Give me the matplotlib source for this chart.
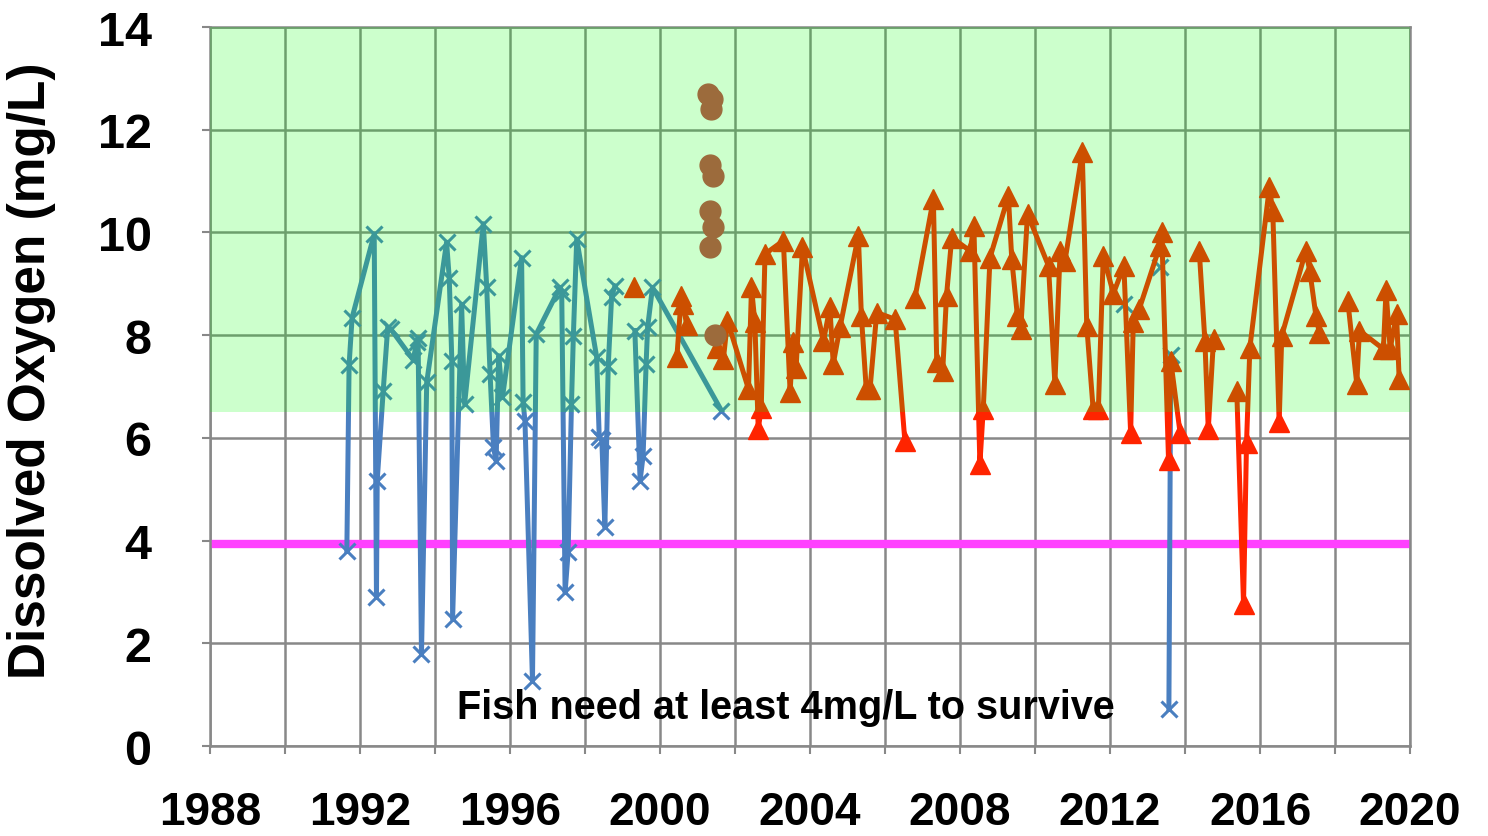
import numpy as np
import matplotlib
matplotlib.use("Agg")
import matplotlib.pyplot as plt
from matplotlib.ticker import MultipleLocator

# ----------------------------------------------------------------
#  Data (NaN = break in the line)
# ----------------------------------------------------------------
nan = np.nan

blue_years = [1991.65, 1991.71, 1991.79, 1992.38, 1992.44, 1992.46, 1992.62, 1992.74,
              1992.82, 1993.42, 1993.51, 1993.55, 1993.64, 1993.78, 1994.31, 1994.38,
              1994.45, 1994.47, 1994.71, 1994.79, 1995.29, 1995.38, 1995.47, 1995.56,
              1995.63, 1995.70, 1995.80, 1996.31, 1996.35, 1996.40, 1996.60, 1996.70,
              1997.33, 1997.38, 1997.47, 1997.55, 1997.64, 1997.69, 1997.78, 1998.31,
              1998.38, 1998.45, 1998.53, 1998.62, 1998.71, 1998.80, nan,
              1999.33, 1999.47, 1999.55, 1999.63, 1999.67, 1999.80, 2001.64, nan,
              2012.36, nan, 2013.33, nan, 2013.57, 2013.62]
blue_do = [3.80, 7.42, 8.34, 9.97, 2.90, 5.17, 6.92, 8.15,
           8.12, 7.52, 7.86, 7.95, 1.79, 7.08, 9.81, 9.12,
           7.50, 2.47, 8.60, 6.66, 10.17, 8.93, 7.24, 5.82,
           5.55, 7.60, 6.79, 9.51, 6.70, 6.32, 1.27, 8.02,
           8.93, 8.82, 2.99, 3.77, 6.66, 7.99, 9.87, 7.58,
           6.02, 5.95, 4.26, 7.40, 8.75, 8.96, nan,
           8.09, 5.17, 5.65, 7.44, 8.15, 8.93, 6.53, nan,
           8.60, nan, 9.33, nan, 0.72, 7.62]

red_years = [1999.31, nan,
             2000.45, 2000.57, 2000.62, 2000.71, nan,
             2001.53, 2001.69, 2001.80, 2002.36, 2002.44, 2002.53, 2002.62, 2002.70,
             2002.80, 2003.29, 2003.47, 2003.54, 2003.63, 2003.80, 2004.36, 2004.53,
             2004.62, 2004.80, 2005.29, 2005.37, 2005.50, 2005.60, 2005.78, 2006.27,
             2006.53, nan,
             2006.80, 2007.29, 2007.38, 2007.54, 2007.64, 2007.78, 2008.27, 2008.37,
             2008.53, 2008.62, 2008.80, 2009.29, 2009.38, 2009.53, 2009.62, 2009.80,
             2010.36, 2010.53, 2010.67, 2010.80, 2011.26, 2011.38, 2011.55, 2011.69,
             2011.82, 2012.09, 2012.37, 2012.55, 2012.62, 2012.78, 2013.33, 2013.38,
             2013.56, 2013.62, 2013.87, nan,
             2014.38, 2014.53, 2014.62, 2014.76, nan,
             2015.38, 2015.56, 2015.64, 2015.73, 2016.25, 2016.34, 2016.51, 2016.58,
             2017.22, 2017.33, 2017.49, 2017.58, nan,
             2018.34, 2018.58, 2018.65, 2019.29, 2019.36, 2019.47, 2019.64, 2019.71]
red_do = [8.93, nan,
          7.57, 8.77, 8.60, 8.20, nan,
          7.76, 7.53, 8.28, 6.95, 8.93, 8.25, 6.17, 6.58,
          9.58, 9.84, 6.89, 7.86, 7.37, 9.71, 7.89, 8.54,
          7.44, 8.15, 9.94, 8.38, 6.95, 6.95, 8.44, 8.31,
          5.94, nan,
          8.73, 10.65, 7.47, 7.31, 8.77, 9.90, 9.64, 10.13,
          5.49, 6.56, 9.51, 10.71, 9.48, 8.38, 8.12, 10.36,
          9.35, 7.05, 9.64, 9.45, 11.56, 8.18, 6.56, 6.56,
          9.55, 8.81, 9.35, 6.09, 8.25, 8.51, 9.74, 10.00,
          5.57, 7.50, 6.09, nan,
          9.64, 7.89, 6.17, 7.92, nan,
          6.92, 2.77, 5.91, 7.76, 10.88, 10.42, 6.30, 7.99,
          9.64, 9.24, 8.38, 8.05, nan,
          8.67, 7.05, 8.09, 7.73, 8.87, 7.73, 8.41, 7.15]

brown_years = [2001.29, 2001.38, 2001.36, 2001.33, 2001.42, 2001.33, 2001.42, 2001.33, 2001.47]
brown_do = [12.69, 12.60, 12.40, 11.31, 11.10, 10.42, 10.10, 9.71, 8.00]

good_level = 6.5      # healthy band shading starts here
fish_level = 3.93     # survival threshold line

# ----------------------------------------------------------------
#  Plot
# ----------------------------------------------------------------
plt.rcParams['font.family'] = ['Liberation Sans', 'DejaVu Sans']
plt.rcParams['font.weight'] = 'bold'

fig = plt.figure(figsize=(14.88, 8.37), dpi=100)
ax = fig.add_axes([0.1411, 0.1075, 0.8065, 0.859])

ax.axhline(fish_level, color='#ff40ff', lw=6, zorder=2)

ax.plot(blue_years, blue_do, color='#4a7fc0', lw=3.6, marker='x',
        markersize=12, markeredgewidth=2.2, zorder=3)
ax.plot(red_years, red_do, color='#ff2400', lw=3.6, marker='^',
        markersize=15, zorder=3)

# translucent green overlay tints everything underneath it
ax.axhspan(good_level, 14, facecolor=(0, 1, 0), alpha=0.2, lw=0, zorder=4)

ax.plot(brown_years, brown_do, 'o', color='#9c6b3c', markersize=15, zorder=5)

ax.text(2003.36, 0.76, 'Fish need at least 4mg/L to survive', fontsize=28.5,
        fontweight='bold', ha='center', va='center', zorder=6)

ax.set_xlim(1988, 2020)
ax.set_ylim(0, 14)
ax.xaxis.set_major_locator(MultipleLocator(4))
ax.xaxis.set_minor_locator(MultipleLocator(2))
ax.yaxis.set_major_locator(MultipleLocator(2))
ax.grid(True, which='both', color='#888888', lw=1.8, zorder=1)
ax.set_axisbelow(True)

for s in ax.spines.values():
    s.set_color('#888888')
    s.set_linewidth(1.8)

ax.tick_params(axis='both', which='both', color='#888888', length=6, width=1.5)
ax.tick_params(axis='y', pad=36, labelsize=35)
ax.tick_params(axis='x', which='major', pad=26, labelsize=33)
for lab in ax.get_xticklabels() + ax.get_yticklabels():
    lab.set_fontweight('bold')

ax.set_ylabel('Dissolved Oxygen (mg/L)', fontsize=37, fontweight='bold')
ax.yaxis.set_label_coords(-0.128, 0.524)

fig.savefig('out.png', dpi=100)
